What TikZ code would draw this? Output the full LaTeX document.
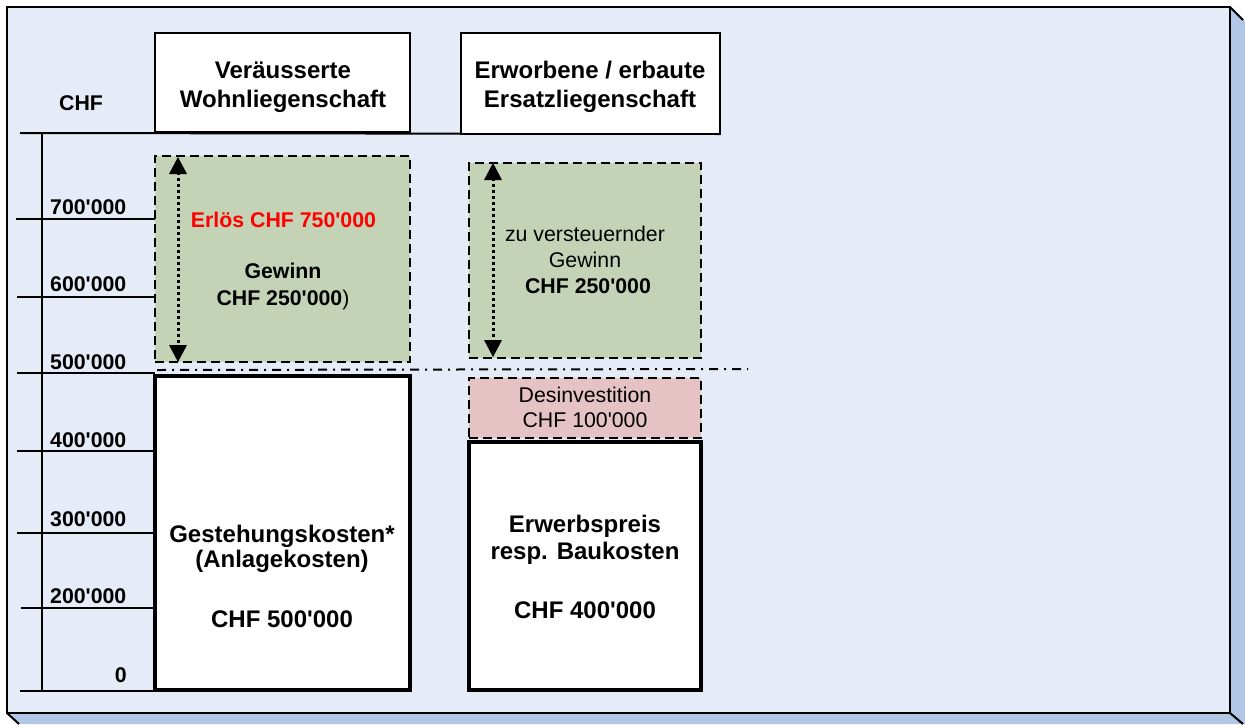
\documentclass[tikz,border=0pt]{standalone}
\usepackage{fontspec}
\setmainfont{Liberation Sans}[Ligatures=TeXOff]
\usetikzlibrary{arrows.meta}
\definecolor{bgfill}{RGB}{230,236,247}
\definecolor{bevel}{RGB}{178,198,230}
\definecolor{greenfill}{RGB}{196,211,181}
\definecolor{pinkfill}{RGB}{229,194,196}
\definecolor{ered}{RGB}{255,0,0}
\newcommand{\fbig}{\fontsize{24}{29}\selectfont\bfseries}
\newcommand{\fmid}{\fontsize{21.3}{26}\selectfont}
\tikzset{
  headbox/.style={draw=black, line width=2pt, fill=white, minimum width=#1, inner sep=0pt},
  greenbox/.style={draw=black, line width=1.4pt, dash pattern=on 9pt off 5pt, fill=greenfill, inner sep=0pt},
  pinkbox/.style={draw=black, line width=1.4pt, dash pattern=on 9pt off 5pt, fill=pinkfill, inner sep=0pt},
  whitebox/.style={draw=black, line width=3.5pt, fill=white, inner sep=0pt},
  txt/.style={anchor=base, inner sep=0pt},
  axlab/.style={anchor=base west, inner sep=0pt, font=\fmid\bfseries},
  tick/.style={line width=2pt},
  dimline/.style={line width=3pt, dash pattern=on 3pt off 3pt, shorten <=15pt, shorten >=15pt},
  dimhead/.style={fill=black, draw=none},
  dashdot/.style={line width=2pt, dash pattern=on 9pt off 6pt on 2pt off 6pt}
}
\begin{document}
\begin{tikzpicture}[x=1pt,y=-1pt]
\useasboundingbox (0,0) rectangle (1245,724);
% frame with bevel
\fill[bevel] (1230,7) -- (1245,21) -- (1245,724) -- (20,724) -- (7,713) -- (1230,713) -- cycle;
\draw[line width=2pt] (1230,7) -- (1243,20);
\draw[line width=2pt] (7,713) -- (19,724);
\draw[line width=2pt] (1230,713) -- (1243,724);
\draw[line width=2.7pt, fill=bgfill] (7,7) rectangle (1230,713);

% axis
\draw[tick] (20,133) -- (720,134);
\draw[tick] (41.5,133) -- (41.5,691);
\foreach \yy/\xs in {219/16,297/17,373/17,451/17,533/17,608/21,691/20}{
  \draw[tick] (\xs,\yy) -- (155,\yy);
}
\node[axlab] (chf) at (59,110) {CHF};
\node[axlab] (l700) at (50,214) {700'000};
\node[axlab] (l600) at (50,291) {600'000};
\node[axlab] (l500) at (50,369) {500'000};
\node[axlab] (l400) at (50,447) {400'000};
\node[axlab] (l300) at (50,526) {300'000};
\node[axlab] (l200) at (50,603) {200'000};
\node[anchor=base east, inner sep=0pt, font=\fmid\bfseries] (l0) at (127,682) {0};

% header boxes
\node[headbox=255pt, minimum height=99pt] (hl) at (282.5,82.5) {};
\node[headbox=259pt, minimum height=101pt] (hr) at (590.5,83.5) {};
\node[txt, font=\fbig] (hl1) at (283,78) {Veräusserte};
\node[txt, font=\fbig] (hl2) at (283,107) {Wohnliegenschaft};
\node[txt, font=\fbig] (hr1) at (590,78) {Erworbene / erbaute};
\node[txt, font=\fbig] (hr2) at (590,107) {Ersatzliegenschaft};

% left column
\node[greenbox, minimum width=255pt, minimum height=206pt] (gl) at (282.5,259) {};
\node[whitebox, minimum width=255pt, minimum height=314pt] (wl) at (282.5,533) {};
% right column
\node[greenbox, minimum width=232pt, minimum height=195pt] (gr) at (585,260.5) {};
\node[pinkbox, minimum width=232pt, minimum height=60pt] (pr) at (585,408) {};
\node[whitebox, minimum width=232pt, minimum height=248pt] (wr) at (585,566) {};

% dash-dot line
\coordinate (dd1) at (157,370);
\coordinate (dd2) at (748,369);
\draw[dashdot] (dd1) -- (dd2);

% dimension arrows (dotted shaft, solid triangular heads)
\coordinate (al1) at (178,157);
\coordinate (al2) at (178,362);
\draw[dimline] (al1) -- (al2);
\fill[dimhead] (al1) -- ++(9,17) -- ++(-18,0) -- cycle;
\fill[dimhead] (al2) -- ++(9,-17) -- ++(-18,0) -- cycle;
\coordinate (ar1) at (493,163);
\coordinate (ar2) at (493,357);
\draw[dimline] (ar1) -- (ar2);
\fill[dimhead] (ar1) -- ++(9,17) -- ++(-18,0) -- cycle;
\fill[dimhead] (ar2) -- ++(9,-17) -- ++(-18,0) -- cycle;

% texts left green
\node[txt, font=\fmid\bfseries, text=ered] (erl) at (283.5,227) {Erlös CHF 750'000};
\node[txt, font=\fmid\bfseries] (gw1) at (283,278) {Gewinn};
\node[txt, font=\fmid] (gw2) at (283,305) {\textbf{CHF 250'000})};
% texts right green
\node[txt, font=\fmid] (zv1) at (585,241) {zu versteuernder};
\node[txt, font=\fmid] (zv2) at (585,267) {Gewinn};
\node[txt, font=\fmid\bfseries] (zv3) at (588,293) {CHF 250'000};
% pink
\node[txt, font=\fmid] (ds1) at (585,402) {Desinvestition};
\node[txt, font=\fmid] (ds2) at (585,427) {CHF 100'000};
% left white
\node[txt, font=\fbig] (gk1) at (282,542) {Gestehungskosten*};
\node[txt, font=\fbig] (gk2) at (282,567) {(Anlagekosten)};
\node[txt, font=\fbig] (gk3) at (282,627) {CHF 500'000};
% right white
\node[txt, font=\fbig] (ep1) at (585,532) {Erwerbspreis};
\node[txt, font=\fbig] (ep2) at (585,559) {resp. Baukosten};
\node[txt, font=\fbig] (ep3) at (585,618) {CHF 400'000};
\end{tikzpicture}
\end{document}
